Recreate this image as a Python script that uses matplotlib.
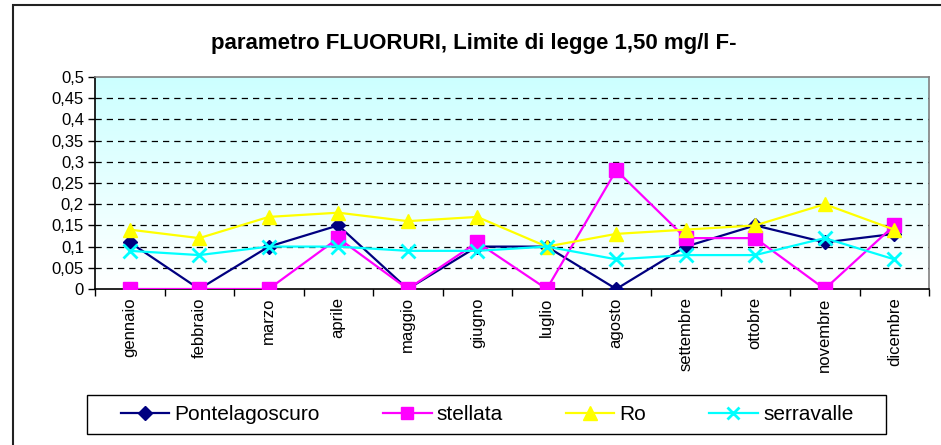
import numpy as np
import matplotlib
matplotlib.use('Agg')
import matplotlib.pyplot as plt
from matplotlib.patches import Rectangle
from matplotlib.ticker import FixedLocator, FuncFormatter

plt.rcParams['font.family'] = ['Liberation Sans', 'DejaVu Sans']

months = ['gennaio', 'febbraio', 'marzo', 'aprile', 'maggio', 'giugno',
          'luglio', 'agosto', 'settembre', 'ottobre', 'novembre', 'dicembre']
pontelagoscuro = [0.11, 0.0, 0.10, 0.15, 0.0, 0.10, 0.10, 0.0, 0.10, 0.15, 0.11, 0.13]
stellata = [0.0, 0.0, 0.0, 0.12, 0.0, 0.11, 0.0, 0.28, 0.12, 0.12, 0.0, 0.15]
ro = [0.14, 0.12, 0.17, 0.18, 0.16, 0.17, 0.10, 0.13, 0.14, 0.15, 0.20, 0.14]
serravalle = [0.09, 0.08, 0.10, 0.10, 0.09, 0.09, 0.10, 0.07, 0.08, 0.08, 0.12, 0.07]
yticks = [0, 0.05, 0.1, 0.15, 0.2, 0.25, 0.3, 0.35, 0.4, 0.45, 0.5]

W, H = 941, 445
fig = plt.figure(figsize=(W / 100, H / 100), dpi=100)

# outer chart border (cut off on the right and bottom like the original)
fig.patches.append(Rectangle((13 / W, -0.1), 1.2, 1 - 5 / H + 0.1, transform=fig.transFigure,
                             fill=False, edgecolor='#222222', linewidth=1.5))

ax = fig.add_axes([95 / W, 1 - 289 / H, (929 - 95) / W, (289 - 77) / H])
x = np.arange(len(months))

# gradient background: light cyan at top to white at bottom
grad = np.linspace(0, 1, 256).reshape(-1, 1)
top = np.array([0.80, 1.0, 1.0])
bot = np.array([1.0, 1.0, 1.0])
img = grad[..., None] * top + (1 - grad[..., None]) * bot
ax.imshow(img, extent=[0, 1, 0, 1], transform=ax.transAxes, origin='lower',
          aspect='auto', zorder=0)

for v in yticks[1:-1]:
    ax.axhline(v, color='black', linestyle=(0, (5, 4)), linewidth=0.9, zorder=1)

ax.plot(x, pontelagoscuro, color='#000080', marker='D', markersize=7.5, linewidth=1.6,
        label='Pontelagoscuro', zorder=3)
ax.plot(x, stellata, color='#FF00FF', marker='s', markersize=9.5, linewidth=1.6,
        label='stellata', zorder=4)
ax.plot(x, ro, color='#FFFF00', marker='^', markersize=10.5, linewidth=1.6,
        label='Ro', zorder=5)
ax.plot(x, serravalle, color='#00FFFF', marker='x', markersize=9.5, markeredgewidth=2,
        linewidth=1.6, label='serravalle', zorder=6)

ax.set_xlim(-0.5, len(months) - 0.5)
ax.set_ylim(0, 0.5)
ax.set_yticks(yticks)
ax.yaxis.set_major_formatter(FuncFormatter(lambda v, p: ('%g' % round(v, 2)).replace('.', ',')))
ax.tick_params(axis='y', direction='out', length=5, width=1, labelsize=12, pad=3)

ax.xaxis.set_major_locator(FixedLocator(np.arange(-0.5, len(months), 1.0)))
ax.xaxis.set_minor_locator(FixedLocator(x))
ax.set_xticklabels([], minor=False)
ax.set_xticklabels(months, minor=True, rotation=90, va='top', ha='center', fontsize=12)
ax.tick_params(axis='x', which='major', direction='out', length=5, width=1)
ax.tick_params(axis='x', which='minor', length=0, pad=6)

ax.spines['left'].set_color('black')
ax.spines['bottom'].set_color('black')
ax.spines['top'].set_color('#808080')
ax.spines['right'].set_color('#808080')
for s in ax.spines.values():
    s.set_linewidth(1.2)

fig.text(474 / W, 1 - 44 / H, 'parametro FLUORURI, Limite di legge 1,50 mg/l F-',
         ha='center', va='center', fontsize=16, fontweight='bold')

# legend
fig.patches.append(Rectangle((87 / W, 1 - 434 / H), (886 - 87) / W, (434 - 395) / H,
                             transform=fig.transFigure, fill=False,
                             edgecolor='black', linewidth=1.0))
handles, labels = ax.get_legend_handles_labels()
fig.legend(handles, labels, loc='center', bbox_to_anchor=(487 / W, 1 - 414.5 / H),
           ncol=4, frameon=False, fontsize=15, handlelength=2.35, handletextpad=0.25,
           columnspacing=3.0, markerscale=0.9)

fig.savefig('out.png', dpi=100)
